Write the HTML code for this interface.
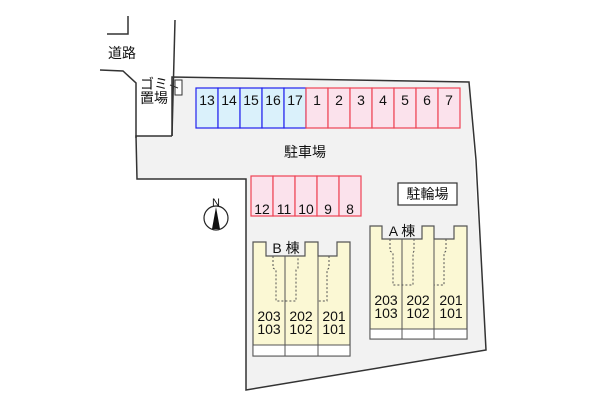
<!DOCTYPE html>
<html><head><meta charset="utf-8"><style>
body{margin:0;background:#fff}
svg text{font-family:"Liberation Sans","Noto Sans CJK JP",sans-serif;fill:#111}
</style></head><body>
<svg width="600" height="400" viewBox="0 0 600 400" xmlns="http://www.w3.org/2000/svg">
<polygon points="172,77 469,82 486,350 246,390 246,179 137,179 136,136 172,136" fill="#f2f2f2"/>
<g fill="none" stroke="#333" stroke-width="1.5">
<polyline points="172,136 172,77 469,82 476,160 486,350 246,390 246,179 137,179 136,136 172,136"/>
<polyline points="175,20 172,136"/>
<polyline points="100,70 123,71 136,83 136,138"/>
<polyline points="128,16 128,34 107,34"/>
</g>
<rect x="175" y="80" width="7" height="15" fill="#fff" stroke="#333"/>
<line x1="170" y1="85" x2="178" y2="88" stroke="#333"/>
<text x="108" y="58" font-size="14">道路</text>
<text x="140" y="89" font-size="14">ゴミ</text>
<text x="140" y="103" font-size="14">置場</text>
<g stroke="#2222ee" stroke-width="1.2" fill="#daf1fb">
<rect x="196" y="88" width="22" height="40"/><rect x="218" y="88" width="22" height="40"/><rect x="240" y="88" width="22" height="40"/><rect x="262" y="88" width="22" height="40"/><rect x="284" y="88" width="22" height="40"/>
</g>
<g stroke="#ee4455" stroke-width="1.2" fill="#fbe2ec">
<rect x="306" y="88" width="22" height="40"/><rect x="328" y="88" width="22" height="40"/><rect x="350" y="88" width="22" height="40"/><rect x="372" y="88" width="22" height="40"/><rect x="394" y="88" width="22" height="40"/><rect x="416" y="88" width="22" height="40"/><rect x="438" y="88" width="22" height="40"/>
<rect x="251" y="176" width="22" height="40"/><rect x="273" y="176" width="22" height="40"/><rect x="295" y="176" width="22" height="40"/><rect x="317" y="176" width="22" height="40"/><rect x="339" y="176" width="22" height="40"/>
</g>
<g font-size="14" text-anchor="middle">
<text x="207" y="105">13</text><text x="229" y="105">14</text><text x="251" y="105">15</text><text x="273" y="105">16</text><text x="295" y="105">17</text>
<text x="317" y="105">1</text><text x="339" y="105">2</text><text x="361" y="105">3</text><text x="383" y="105">4</text><text x="405" y="105">5</text><text x="427" y="105">6</text><text x="449" y="105">7</text>
<text x="262" y="214">12</text><text x="284" y="214">11</text><text x="306" y="214">10</text><text x="328" y="214">9</text><text x="350" y="214">8</text>
</g>
<text x="305" y="157" font-size="14" text-anchor="middle">駐車場</text>
<rect x="398" y="183" width="59" height="22" fill="#fff" stroke="#333" stroke-width="1.2"/>
<text x="427.5" y="199" font-size="14" text-anchor="middle">駐輪場</text>
<circle cx="216" cy="218" r="12" fill="#fff" stroke="#222" stroke-width="1.2"/>
<polygon points="216,207 212,229 220,229" fill="#111"/>
<text x="216" y="206" font-size="11" text-anchor="middle">N</text>
<polygon points="253,242 266,242 266,256 305,256 305,242 318,242 318,256 337,256 337,242 350,242 350,356 253,356" fill="#fbf8d4" stroke="#555" stroke-width="1.2"/>
<rect x="253" y="345" width="97" height="11" fill="#fff" stroke="#555"/>
<g stroke="#555" stroke-width="1"><line x1="285" y1="256" x2="285" y2="356"/><line x1="318" y1="256" x2="318" y2="356"/></g>
<g fill="none" stroke="#555" stroke-dasharray="2,2"><polyline points="273,256 273,268 276,270 276,301 296,301 296,270 298,268 298,256"/><polyline points="329,256 329,268 327,270 327,301 318,301"/></g>
<text x="286" y="253" font-size="14" text-anchor="middle">B 棟</text>
<g font-size="14" text-anchor="middle"><text x="269" y="321">203</text><text x="269" y="334">103</text><text x="301" y="321">202</text><text x="301" y="334">102</text><text x="334" y="321">201</text><text x="334" y="334">101</text></g>
<polygon points="370,226 382,226 382,239 422,239 422,226 434,226 434,239 454,239 454,226 467,226 467,339 370,339" fill="#fbf8d4" stroke="#555" stroke-width="1.2"/>
<rect x="370" y="329" width="97" height="10" fill="#fff" stroke="#555"/>
<g stroke="#555" stroke-width="1"><line x1="402" y1="239" x2="402" y2="339"/><line x1="434" y1="239" x2="434" y2="339"/></g>
<g fill="none" stroke="#555" stroke-dasharray="2,2"><polyline points="390,239 390,251 393,253 393,285 413,285 413,253 414,251 414,239"/><polyline points="446,239 446,251 444,253 444,285 434,285"/></g>
<text x="402" y="236" font-size="14" text-anchor="middle">A 棟</text>
<g font-size="14" text-anchor="middle"><text x="386" y="305">203</text><text x="386" y="318">103</text><text x="418" y="305">202</text><text x="418" y="318">102</text><text x="451" y="305">201</text><text x="451" y="318">101</text></g>
</svg>
</body></html>
